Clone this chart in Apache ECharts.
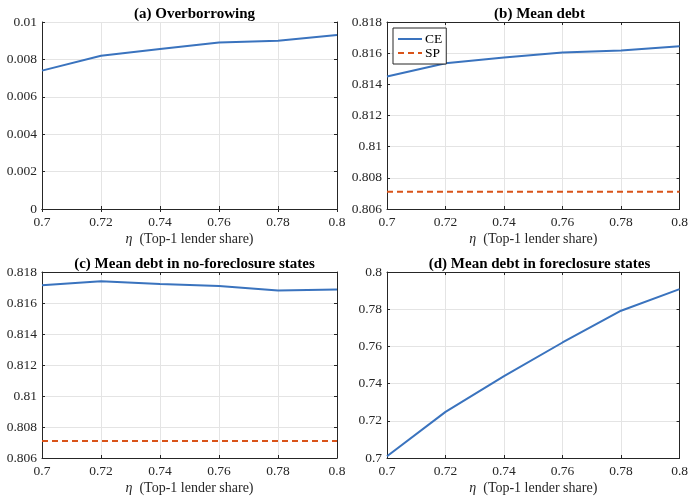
<!DOCTYPE html>
<html><head><meta charset="utf-8">
<script src="https://cdn.jsdelivr.net/npm/echarts@6/dist/echarts.min.js"></script>
<style>html,body{margin:0;padding:0;background:#fff}#c{width:691px;height:496px}</style>
</head><body><div id="c"></div>
<script>
const eta = [0.70, 0.72, 0.74, 0.76, 0.78, 0.80];
const overborrowing = [0.0074, 0.0082, 0.00855, 0.0089, 0.0090, 0.0093];
const meanDebtCE = [0.8145, 0.81535, 0.81572, 0.81605, 0.81617, 0.81645];
const meanDebtSP = [0.8071, 0.8071, 0.8071, 0.8071, 0.8071, 0.8071];
const noForeclosureCE = [0.81714, 0.81740, 0.81722, 0.81710, 0.81680, 0.81687];
const noForeclosureSP = [0.8071, 0.8071, 0.8071, 0.8071, 0.8071, 0.8071];
const foreclosureCE = [0.7009, 0.7248, 0.7440, 0.7621, 0.7792, 0.7908];
const titles = ['(a) Overborrowing', '(b) Mean debt', '(c) Mean debt in no-foreclosure states', '(d) Mean debt in foreclosure states'];
const yRanges = [[0, 0.01, 0.002], [0.806, 0.818, 0.002], [0.806, 0.818, 0.002], [0.7, 0.8, 0.02]];

const FONT = 'Liberation Serif';
const BLUE = '#3A73BE', RED = '#D95319', AX = '#262626';
const grids = [
  {left: 42, top: 22, width: 295, height: 187},
  {left: 387, top: 22, width: 295, height: 187},
  {left: 42, top: 272, width: 295, height: 187},
  {left: 387, top: 272, width: 295, height: 187}
];
const fmt = v => String(parseFloat(v.toFixed(6)));
const mainX = grids.map((g, i) => ({
  type: 'value', gridIndex: i, min: 0.7, max: 0.8, interval: 0.02, position: 'bottom',
  name: '{i|η}  (Top-1 lender share)', nameLocation: 'middle', nameGap: 23,
  nameTextStyle: {fontFamily: FONT, fontSize: 14, color: '#262626', rich: {i: {fontFamily: FONT, fontStyle: 'italic', fontSize: 14, color: '#262626'}}},
  axisLine: {show: true, lineStyle: {color: AX, width: 1}},
  axisTick: {show: true, inside: true, length: 3, lineStyle: {color: AX}},
  axisLabel: {fontFamily: FONT, fontSize: 13.5, color: '#262626', margin: 6, formatter: fmt},
  splitLine: {show: true, lineStyle: {color: '#e4e4e4', width: 1}}
}));
const topX = grids.map((g, i) => ({
  type: 'value', gridIndex: i, min: 0.7, max: 0.8, interval: 0.02, position: 'top',
  axisLine: {show: true, lineStyle: {color: AX, width: 1}},
  axisTick: {show: true, inside: true, length: 3, lineStyle: {color: AX}},
  axisLabel: {show: false}, splitLine: {show: false}
}));
const mainY = grids.map((g, i) => ({
  type: 'value', gridIndex: i, min: yRanges[i][0], max: yRanges[i][1], interval: yRanges[i][2], position: 'left',
  axisLine: {show: true, lineStyle: {color: AX, width: 1}},
  axisTick: {show: true, inside: true, length: 3, lineStyle: {color: AX}},
  axisLabel: {fontFamily: FONT, fontSize: 13.5, color: '#262626', margin: 5, formatter: fmt},
  splitLine: {show: true, lineStyle: {color: '#e4e4e4', width: 1}}
}));
const rightY = grids.map((g, i) => ({
  type: 'value', gridIndex: i, min: yRanges[i][0], max: yRanges[i][1], interval: yRanges[i][2], position: 'right',
  axisLine: {show: true, lineStyle: {color: AX, width: 1}},
  axisTick: {show: true, inside: true, length: 3, lineStyle: {color: AX}},
  axisLabel: {show: false}, splitLine: {show: false}
}));
const option = {
  animation: false,
  backgroundColor: '#fff',
  title: grids.map((g, i) => ({
    text: titles[i], left: g.left + g.width / 2, top: g.top - 20, textAlign: 'center',
    textStyle: {fontFamily: FONT, fontWeight: 'bold', fontSize: 15, color: '#000'}
  })),
  grid: grids.map(g => Object.assign({show: false}, g)),
  legend: {
    left: 393, top: 28, orient: 'vertical', itemGap: 0, itemWidth: 24, itemHeight: 10,
    padding: [4, 4, 4, 4], borderColor: AX, borderWidth: 1, backgroundColor: '#fff',
    data: ['CE', 'SP'],
    itemStyle: {opacity: 0},
    textStyle: {fontFamily: FONT, fontSize: 13.5, lineHeight: 13, color: '#000', padding: [0, 0, 0, -2]}
  },
  xAxis: mainX.concat(topX),
  yAxis: mainY.concat(rightY),
  series: [
    {name: 'CE', type: 'line', xAxisIndex: 0, yAxisIndex: 0, data: eta.map((x, k) => [x, overborrowing[k]])},
    {name: 'CE', type: 'line', xAxisIndex: 1, yAxisIndex: 1, data: eta.map((x, k) => [x, meanDebtCE[k]])},
    {name: 'SP', type: 'line', xAxisIndex: 1, yAxisIndex: 1, data: eta.map((x, k) => [x, meanDebtSP[k]]), dashed: true},
    {name: 'CE', type: 'line', xAxisIndex: 2, yAxisIndex: 2, data: eta.map((x, k) => [x, noForeclosureCE[k]])},
    {name: 'SP', type: 'line', xAxisIndex: 2, yAxisIndex: 2, data: eta.map((x, k) => [x, noForeclosureSP[k]]), dashed: true},
    {name: 'CE', type: 'line', xAxisIndex: 3, yAxisIndex: 3, data: eta.map((x, k) => [x, foreclosureCE[k]])}
  ].map(s => {
    const dashed = s.dashed; delete s.dashed;
    const c = dashed ? RED : BLUE;
    return Object.assign(s, {
      symbol: 'none', showSymbol: false, color: c,
      lineStyle: {color: c, width: 2, type: dashed ? [6, 4] : 'solid'},
      itemStyle: {color: c}
    });
  })
};
echarts.init(document.getElementById('c')).setOption(option);
</script>
</body></html>
